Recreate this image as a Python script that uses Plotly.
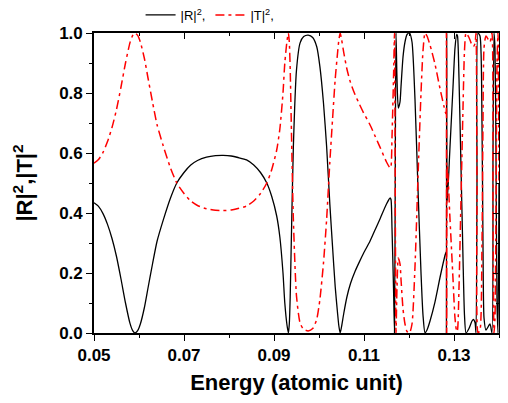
import plotly.graph_objects as go

energy = [0.0500, 0.0510, 0.0520, 0.0530, 0.0540, 0.0550, 0.0560, 0.0570, 0.0580, 0.0586,
          0.0591, 0.0597, 0.0603, 0.0612, 0.0620, 0.0630, 0.0640, 0.0654, 0.0670, 0.0684,
          0.0700, 0.0715, 0.0730, 0.0750, 0.0770, 0.0787, 0.0805, 0.0820, 0.0839, 0.0855,
          0.0870, 0.0884, 0.0895, 0.0906, 0.0913, 0.0920, 0.0924, 0.0929, 0.0932, 0.0934,
          0.0936, 0.0938, 0.0943, 0.0950, 0.0958, 0.0966, 0.0976, 0.0986, 0.0995, 0.1002,
          0.1010, 0.1017, 0.1024, 0.1030, 0.1036, 0.1041, 0.1044, 0.1047, 0.1050, 0.1055,
          0.1062, 0.1070, 0.1080, 0.1090, 0.1099, 0.1113, 0.1125, 0.1136, 0.1150, 0.1158,
          0.1160, 0.11622, 0.11656,
          0.11678, 0.11696, 0.11711, 0.11733, 0.11762, 0.11800, 0.11822, 0.11867, 0.11911, 0.11956,
          0.12011, 0.12067, 0.12133, 0.12200, 0.12267, 0.12311, 0.12356, 0.12400, 0.12467, 0.12578,
          0.12689, 0.12778, 0.12822, 0.12831, 0.12838, 0.12851, 0.12911, 0.12978, 0.13022, 0.13060,
          0.13078, 0.13111, 0.13156, 0.13200, 0.13233, 0.13267, 0.13333, 0.13400, 0.13433, 0.13467,
          0.13489, 0.13511, 0.13533, 0.13578, 0.13622, 0.13644, 0.13667, 0.13711, 0.13800, 0.13844,
          0.13867, 0.13889, 0.13911, 0.13933, 0.13956, 0.13978, 0.14000]

r_sq = [0.434, 0.422, 0.398, 0.362, 0.315, 0.255, 0.180, 0.100, 0.032, 0.008,
        0.000, 0.008, 0.030, 0.085, 0.150, 0.230, 0.305, 0.377, 0.450, 0.500,
        0.535, 0.560, 0.575, 0.586, 0.591, 0.592, 0.590, 0.585, 0.577, 0.560,
        0.535, 0.500, 0.455, 0.390, 0.320, 0.200, 0.100, 0.025, 0.000, 0.030,
        0.120, 0.270, 0.620, 0.877, 0.967, 0.988, 0.993, 0.985, 0.954, 0.888,
        0.766, 0.620, 0.432, 0.290, 0.154, 0.070, 0.025, 0.000, 0.020, 0.065,
        0.120, 0.165, 0.205, 0.238, 0.266, 0.305, 0.345, 0.382, 0.430, 0.450,
        0.445, 0.350, 0.150,
        0.000, 0.600, 1.000, 0.850, 0.750, 0.770, 0.820, 0.920, 0.970, 0.995,
        1.000, 0.970, 0.780, 0.480, 0.200, 0.060, 0.000, 0.010, 0.040, 0.104,
        0.185, 0.245, 0.270, 0.000, 1.000, 0.440, 0.620, 0.820, 0.950, 0.995,
        0.990, 0.850, 0.550, 0.250, 0.060, 0.000, 0.015, 0.040, 0.045, 0.035,
        0.000, 0.500, 1.000, 0.990, 0.700, 0.300, 0.050, 0.010, 0.030, 0.000,
        0.600, 1.000, 0.950, 0.600, 0.100, 0.000, 0.500]

t_sq = [0.566, 0.578, 0.602, 0.638, 0.685, 0.745, 0.820, 0.900, 0.968, 0.992,
        1.000, 0.992, 0.970, 0.915, 0.850, 0.770, 0.695, 0.623, 0.550, 0.500,
        0.465, 0.440, 0.425, 0.414, 0.409, 0.408, 0.410, 0.415, 0.423, 0.440,
        0.465, 0.500, 0.545, 0.610, 0.680, 0.800, 0.900, 0.975, 1.000, 0.970,
        0.880, 0.730, 0.380, 0.123, 0.033, 0.012, 0.007, 0.015, 0.046, 0.112,
        0.234, 0.380, 0.568, 0.710, 0.846, 0.930, 0.975, 1.000, 0.980, 0.935,
        0.880, 0.835, 0.795, 0.762, 0.734, 0.695, 0.655, 0.618, 0.570, 0.550,
        0.555, 0.650, 0.850,
        1.000, 0.400, 0.000, 0.150, 0.250, 0.230, 0.180, 0.080, 0.030, 0.005,
        0.000, 0.030, 0.220, 0.520, 0.800, 0.940, 1.000, 0.990, 0.960, 0.896,
        0.815, 0.755, 0.730, 1.000, 0.000, 0.560, 0.380, 0.180, 0.050, 0.005,
        0.010, 0.150, 0.450, 0.750, 0.940, 1.000, 0.985, 0.960, 0.955, 0.965,
        1.000, 0.500, 0.000, 0.010, 0.300, 0.700, 0.950, 0.990, 0.970, 1.000,
        0.400, 0.000, 0.050, 0.400, 0.900, 1.000, 0.500]

x_ticks = [0.05, 0.07, 0.09, 0.11, 0.13]
x_tick_labels = ["0.05", "0.07", "0.09", "0.11", "0.13"]
y_ticks = [0.0, 0.2, 0.4, 0.6, 0.8, 1.0]
y_tick_labels = ["0.0", "0.2", "0.4", "0.6", "0.8", "1.0"]

FONT = "Arial, Liberation Sans, sans-serif"

fig = go.Figure()
fig.add_trace(go.Scatter(x=energy, y=r_sq, mode="lines", name="|R|<sup>2</sup>,",
                         line=dict(color="black", width=1.3, shape="spline", smoothing=0.6)))
fig.add_trace(go.Scatter(x=energy, y=t_sq, mode="lines", name="|T|<sup>2</sup>,",
                         line=dict(color="#ff0000", width=1.5, dash="9px,4px,3px,4px",
                                   shape="spline", smoothing=0.6)))
# helper trace so that the top/right tick axes are drawn
fig.add_trace(go.Scatter(x=[None], y=[None], xaxis="x2", yaxis="y2", showlegend=False,
                         hoverinfo="skip"))

axis_common = dict(showgrid=False, zeroline=False, linecolor="black", linewidth=1.6,
                   tickcolor="black", tickwidth=1.3, automargin=False)

# page body has an 8px margin, so the figure is sized to fit inside the 508x403 window
fig.update_layout(
    width=492, height=387,
    margin=dict(l=86, r=1, t=25, b=62, autoexpand=False),
    paper_bgcolor="white", plot_bgcolor="white",
    font=dict(family=FONT, color="black"),
    xaxis=dict(range=[0.05, 0.14], tickvals=x_ticks, ticktext=x_tick_labels,
               ticks="outside", ticklen=6, showline=True, mirror=True,
               tickfont=dict(size=17, family=FONT, weight="bold"),
               minor=dict(dtick=0.01, tick0=0.05, ticks="outside", ticklen=3,
                          tickcolor="black", tickwidth=1.2),
               title=dict(text="<b>Energy (atomic unit)</b>", font=dict(size=22, family=FONT),
                          standoff=14),
               **axis_common),
    yaxis=dict(range=[0, 1], tickvals=y_ticks, ticktext=y_tick_labels,
               ticks="outside", ticklen=6, showline=True, mirror=True,
               tickfont=dict(size=17, family=FONT, weight="bold"),
               minor=dict(dtick=0.1, tick0=0, ticks="outside", ticklen=3,
                          tickcolor="black", tickwidth=1.2),
               title=dict(text="<b>|R|<sup>2</sup>,|T|<sup>2</sup></b>",
                          font=dict(size=22, family=FONT), standoff=20),
               **axis_common),
    xaxis2=dict(range=[0.05, 0.14], overlaying="x", side="top", anchor="y",
                tickvals=x_ticks, showticklabels=False, ticks="inside", ticklen=6,
                minor=dict(dtick=0.01, tick0=0.05, ticks="inside", ticklen=3,
                           tickcolor="black", tickwidth=1.2),
                showgrid=False, zeroline=False, showline=False, automargin=False,
                tickcolor="black", tickwidth=1.3),
    yaxis2=dict(range=[0, 1], overlaying="y", side="right", anchor="x",
                tickvals=y_ticks, showticklabels=False, ticks="inside", ticklen=6,
                minor=dict(dtick=0.1, tick0=0, ticks="inside", ticklen=3,
                           tickcolor="black", tickwidth=1.2),
                showgrid=False, zeroline=False, showline=False, automargin=False,
                tickcolor="black", tickwidth=1.3),
    legend=dict(orientation="h", x=0.115, xanchor="left", y=1.06, yanchor="middle",
                font=dict(size=13, family=FONT), bgcolor="rgba(0,0,0,0)",
                itemwidth=30, tracegroupgap=0),
    showlegend=True,
)

fig.write_html("out.html")
